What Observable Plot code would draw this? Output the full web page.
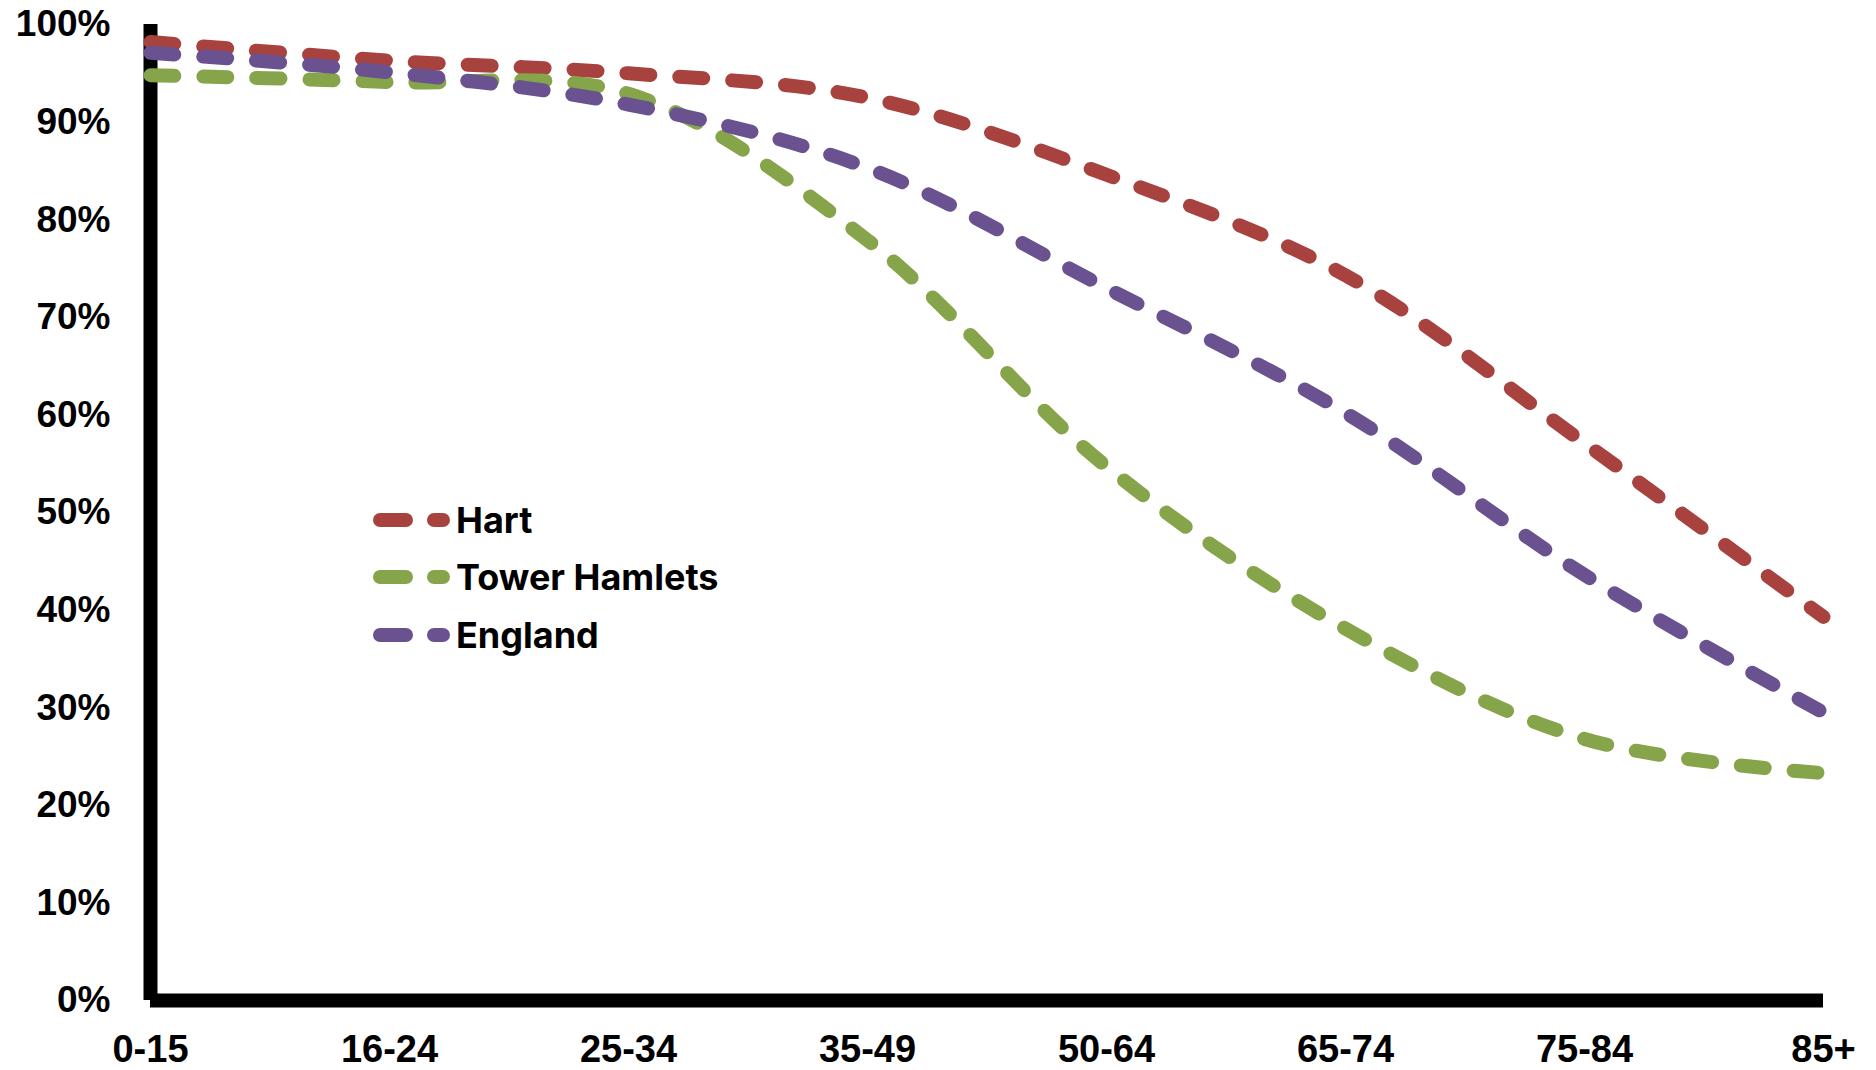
<!DOCTYPE html>
<html>
<head>
<meta charset="utf-8">
<script src="https://cdn.jsdelivr.net/npm/d3@7"></script>
<script src="https://cdn.jsdelivr.net/npm/@observablehq/plot@0.6"></script>
<style>
  html, body { margin: 0; padding: 0; background: #fff; }
  #wrap { position: relative; width: 1876px; height: 1070px; overflow: hidden; }
  #legend { position: absolute; left: 373px; top: 491px; font-family: Inter, Lato, sans-serif; font-weight: bold; font-size: 36px; color: #000; }
  #legend .row { display: flex; align-items: center; height: 57.5px; }
  #legend svg { width: 83px; height: 16px; display: block; }
</style>
</head>
<body>
<div id="wrap"></div>
<script>
const ages = ["0-15", "16-24", "25-34", "35-49", "50-64", "65-74", "75-84", "85+"];
const seriesNames = ["Hart", "Tower Hamlets", "England"];
const seriesColors = ["#A8423F", "#86A44A", "#6A518F"];
const hart = [0.982, 0.963, 0.950, 0.925, 0.846, 0.743, 0.571, 0.393];
const towerHamlets = [0.948, 0.941, 0.929, 0.779, 0.547, 0.381, 0.268, 0.233];
const england = [0.971, 0.951, 0.918, 0.853, 0.730, 0.602, 0.436, 0.295];
const yTicks = [0, 0.1, 0.2, 0.3, 0.4, 0.5, 0.6, 0.7, 0.8, 0.9, 1.0];

const seriesValues = [hart, towerHamlets, england];
const data = seriesNames.flatMap((name, i) =>
  ages.map((age, j) => ({ series: name, age, value: seriesValues[i][j] }))
);

const chart = Plot.plot({
  width: 1876,
  height: 1070,
  marginLeft: 149,
  marginRight: 52,
  marginTop: 24,
  marginBottom: 70,
  x: { type: "point", domain: ages, padding: 0, label: null },
  y: { domain: [0, 1], label: null },
  color: { domain: seriesNames, range: seriesColors },
  style: {
    fontFamily: "'Liberation Sans', Arial, sans-serif",
    fontWeight: "bold",
    fontSize: "37px",
    color: "#000",
    background: "#fff",
    overflow: "visible"
  },
  marks: [
    Plot.axisY({ ticks: yTicks, tickFormat: d3.format(".0%"), tickSize: 0, tickPadding: 39, label: null }),
    Plot.axisX({ tickSize: 0, tickPadding: 35, label: null, fontSize: 38 }),
    Plot.ruleX([ages[0]], { y1: 0, y2: 1, stroke: "#000", strokeWidth: 14 }),
    Plot.ruleY([0], { x1: () => ages[0], x2: () => ages[ages.length - 1], stroke: "#000", strokeWidth: 14 }),
    Plot.line(data, {
      x: "age", y: "value", z: "series", stroke: "series",
      strokeWidth: 14, strokeDasharray: "24,29", strokeLinecap: "round",
      curve: "catmull-rom"
    })
  ]
});

const wrap = document.getElementById("wrap");
wrap.appendChild(chart);

const legend = document.createElement("div");
legend.id = "legend";
seriesNames.forEach((name, i) => {
  const row = document.createElement("div");
  row.className = "row";
  row.innerHTML = `<svg viewBox="0 0 83 16"><line x1="7" y1="8" x2="70" y2="8" stroke="${seriesColors[i]}" stroke-width="14" stroke-linecap="round" stroke-dasharray="26,28"/></svg><span>${name}</span>`;
  legend.appendChild(row);
});
wrap.appendChild(legend);
</script>
</body>
</html>
